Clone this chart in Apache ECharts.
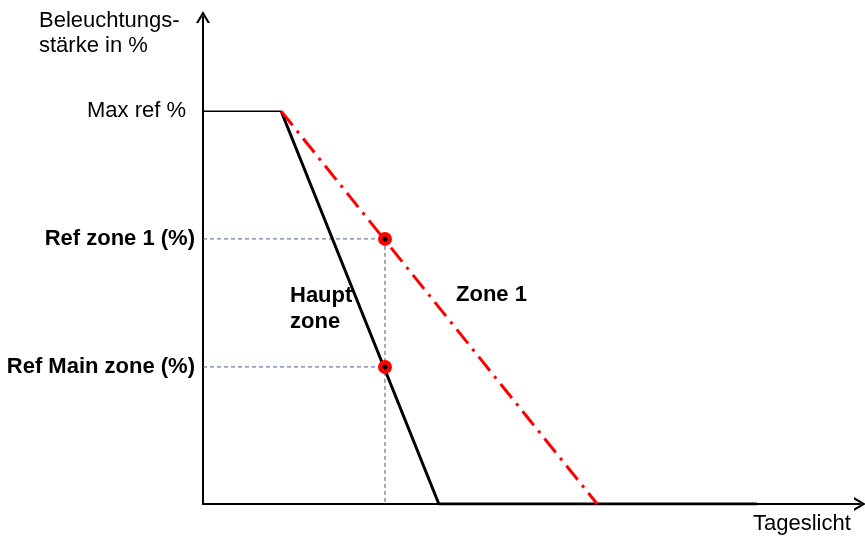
<!DOCTYPE html>
<html>
<head>
<meta charset="utf-8">
<script src="https://cdn.jsdelivr.net/npm/echarts@6/dist/echarts.min.js"></script>
<style>
  html, body { margin: 0; padding: 0; background: #fff; }
  #chart { width: 865px; height: 539px; }
</style>
</head>
<body>
<div id="chart"></div>
<script>
// Tageslicht (x) vs Beleuchtungsstärke in % (y)
const plateauX = [0, 11.9];
const plateauY = [100, 100];
const mainX = [11.9, 35.9, 84.3];
const mainY = [100, 0, 0];
const zone1X = [11.9, 60.0];
const zone1Y = [100, 0];
const refX = 27.7;
const refZone1 = 67.5;
const refMain = 34.9;
const refLabels = ['Max ref %', 'Ref zone 1 (%)', 'Ref Main zone (%)'];
const refValues = [100, refZone1, refMain];

const font = "'Liberation Sans', Arial, sans-serif";
const pairs = (xs, ys) => xs.map((x, i) => [x, ys[i]]);
// offener Pfeil wie im Original
const chevron = 'path://M0,12 L7,0 L14,12 L11.6,12 L7,4.2 L2.4,12 Z';

let chart = echarts.init(document.getElementById('chart'));
let option = {
  animation: false,
  grid: { left: 203, right: 5, top: 17, bottom: 35 },
  xAxis: {
    type: 'value', min: 0, max: 100,
    axisLine: { lineStyle: { color: '#000', width: 2 }, symbol: ['none', chevron], symbolSize: [14, 12] },
    axisTick: { show: false }, axisLabel: { show: false }, splitLine: { show: false }
  },
  yAxis: {
    type: 'value', min: 0, max: 124,
    axisLine: { show: true, lineStyle: { color: '#000', width: 2 }, symbol: ['none', chevron], symbolSize: [14, 12] },
    axisTick: { show: false }, axisLabel: { show: false }, splitLine: { show: false }
  },
  series: [
    {
      // Hilfslinien
      type: 'line', showSymbol: false,
      data: [[0, refZone1], [refX, refZone1]],
      lineStyle: { color: '#4a5f8c', width: 1, type: [4, 3] }
    },
    {
      type: 'line', showSymbol: false,
      data: [[0, refMain], [refX, refMain]],
      lineStyle: { color: '#4a5f8c', width: 1, type: [4, 3] }
    },
    {
      type: 'line', showSymbol: false,
      data: [[refX, refZone1], [refX, 0]],
      lineStyle: { color: '#555', width: 1, type: [4, 3] }
    },
    {
      type: 'line', showSymbol: false,
      data: pairs(plateauX, plateauY),
      lineStyle: { color: '#000', width: 1.5 }
    },
    {
      name: 'Haupt zone',
      type: 'line', showSymbol: false,
      data: pairs(mainX, mainY),
      lineStyle: { color: '#000', width: 3 }
    },
    {
      name: 'Zone 1',
      type: 'line', showSymbol: false,
      data: pairs(zone1X, zone1Y),
      lineStyle: { color: '#ff0000', width: 3, type: [18, 7, 3, 7] }
    },
    {
      type: 'scatter', symbolSize: 14,
      itemStyle: { color: '#ff0000', opacity: 1 },
      data: [[refX, refZone1], [refX, refMain]], z: 5
    },
    {
      type: 'scatter', symbolSize: 5,
      itemStyle: { color: '#000', opacity: 1 },
      data: [[refX, refZone1], [refX, refMain]], z: 6
    },
    {
      // Beschriftung der Referenzwerte links der Achse
      type: 'scatter', symbolSize: 0, silent: true,
      itemStyle: { opacity: 1 },
      data: refValues.map((v, i) => ({
        value: [0, v],
        label: {
          show: true, position: 'left', distance: i === 0 ? 17 : 8,
          formatter: refLabels[i],
          color: '#000', fontFamily: font, fontSize: 22,
          fontWeight: i === 0 ? 'normal' : 'bold'
        }
      }))
    }
  ],
  graphic: [
    { type: 'text', left: 39, top: 8, style: { text: 'Beleuchtungs-\nstärke in %', font: '22px ' + font, lineHeight: 25, fill: '#000' } },
    { type: 'text', left: 753, top: 513, style: { text: 'Tageslicht', font: '22px ' + font, fill: '#000' } },
    { type: 'text', left: 290, top: 283, style: { text: 'Haupt\nzone', font: 'bold 22px ' + font, lineHeight: 26, fill: '#000' } },
    { type: 'text', left: 456, top: 284, style: { text: 'Zone 1', font: 'bold 22px ' + font, fill: '#000' } }
  ]
};
chart.setOption(option);
</script>
</body>
</html>
